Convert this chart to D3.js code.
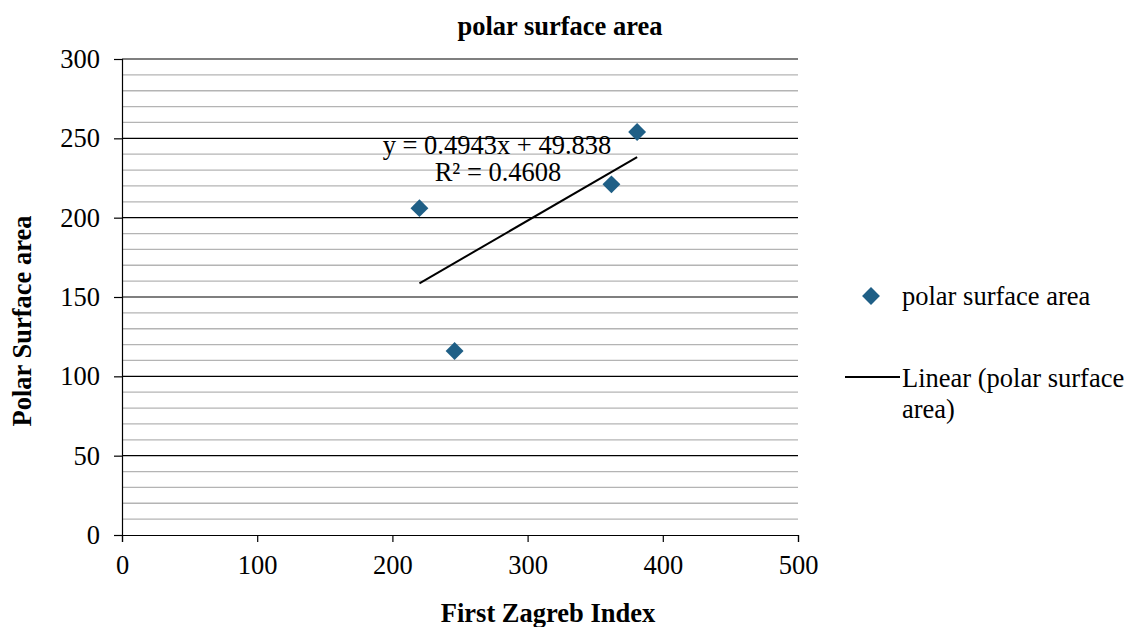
<!DOCTYPE html>
<html>
<head>
<meta charset="utf-8">
<script src="https://cdn.jsdelivr.net/npm/d3@7"></script>
<style>
  body { margin: 0; background: #fff; }
  text { font-family: "Liberation Serif", "Times New Roman", serif; fill: #000; }
</style>
</head>
<body>
<div id="chart"></div>
<script>
// data
const xValues = [220, 246, 362, 381];
const yValues = [206, 116, 221, 254];
const xTicks = [0, 100, 200, 300, 400, 500];
const yTicks = [0, 50, 100, 150, 200, 250, 300];
const slope = 0.4943;
const intercept = 49.838;
const rSquared = 0.4608;

const width = 1128, height = 627;
const margin = { top: 59, left: 122, right: 330, bottom: 92 };
const fs = '26.5px';

const svg = d3.select('#chart').append('svg')
  .attr('width', width).attr('height', height);

const x = d3.scaleLinear().domain([0, 500]).range([margin.left, width - margin.right]);
const y = d3.scaleLinear().domain([0, 300]).range([height - margin.bottom, margin.top]);

// minor gridlines every 10
const minor = d3.range(10, 300, 10).filter(v => v % 50 !== 0);
svg.append('g').selectAll('line').data(minor).enter().append('line')
  .attr('x1', x(0)).attr('x2', x(500))
  .attr('y1', d => y(d)).attr('y2', d => y(d))
  .attr('stroke', '#b4b4b4').attr('stroke-width', 1.3);

// major gridlines
svg.append('g').selectAll('line').data(yTicks.filter(v => v > 0)).enter().append('line')
  .attr('x1', x(0)).attr('x2', x(500))
  .attr('y1', d => y(d)).attr('y2', d => y(d))
  .attr('stroke', '#000').attr('stroke-width', 1.2);

// axes
const yAxis = svg.append('g').attr('transform', `translate(${x(0)},0)`)
  .call(d3.axisLeft(y).tickValues(yTicks).tickSize(8).tickPadding(14));
const xAxis = svg.append('g').attr('transform', `translate(0,${y(0)})`)
  .call(d3.axisBottom(x).tickValues(xTicks).tickSize(7).tickPadding(12));
[xAxis, yAxis].forEach(a => {
  a.select('.domain').attr('stroke', '#000').attr('stroke-width', 1.2);
  a.selectAll('line').attr('stroke', '#000').attr('stroke-width', 1.2);
  a.selectAll('text').style('font-family', '"Liberation Serif", serif').style('font-size', fs).attr('fill', '#000');
});
xAxis.selectAll('text').attr('dy', '0.75em');

// trend line
const x0 = d3.min(xValues), x1 = d3.max(xValues);
svg.append('line')
  .attr('x1', x(x0)).attr('y1', y(slope * x0 + intercept))
  .attr('x2', x(x1)).attr('y2', y(slope * x1 + intercept))
  .attr('stroke', '#000').attr('stroke-width', 2);

// points
const diamond = d3.symbol().type(d3.symbolSquare).size(160);
svg.append('g').selectAll('path').data(xValues).enter().append('path')
  .attr('d', diamond)
  .attr('transform', (d, i) => `translate(${x(d)},${y(yValues[i])}) rotate(45)`)
  .attr('fill', '#1f5f86');

// equation
svg.append('text').attr('x', 497).attr('y', 154).attr('text-anchor', 'middle')
  .style('font-size', fs).text(`y = ${slope}x + ${intercept}`);
svg.append('text').attr('x', 498).attr('y', 181).attr('text-anchor', 'middle')
  .style('font-size', fs).text(`R² = ${rSquared}`);

// title and axis titles
svg.append('text').attr('x', 560).attr('y', 35).attr('text-anchor', 'middle')
  .style('font-size', fs).style('font-weight', 'bold').text('polar surface area');
svg.append('text').attr('x', 548).attr('y', 622).attr('text-anchor', 'middle')
  .style('font-size', fs).style('font-weight', 'bold').text('First Zagreb Index');
svg.append('text').attr('transform', 'translate(31,321) rotate(-90)').attr('text-anchor', 'middle')
  .style('font-size', fs).style('font-weight', 'bold').text('Polar Surface area');

// legend
svg.append('path').attr('d', diamond)
  .attr('transform', 'translate(871,296) rotate(45)').attr('fill', '#1f5f86');
svg.append('text').attr('x', 902).attr('y', 305).style('font-size', fs).text('polar surface area');
svg.append('line').attr('x1', 845).attr('x2', 900).attr('y1', 377).attr('y2', 377)
  .attr('stroke', '#000').attr('stroke-width', 2);
svg.append('text').attr('x', 902).attr('y', 387).style('font-size', fs).text('Linear (polar surface');
svg.append('text').attr('x', 902).attr('y', 418).style('font-size', fs).text('area)');
</script>
</body>
</html>
